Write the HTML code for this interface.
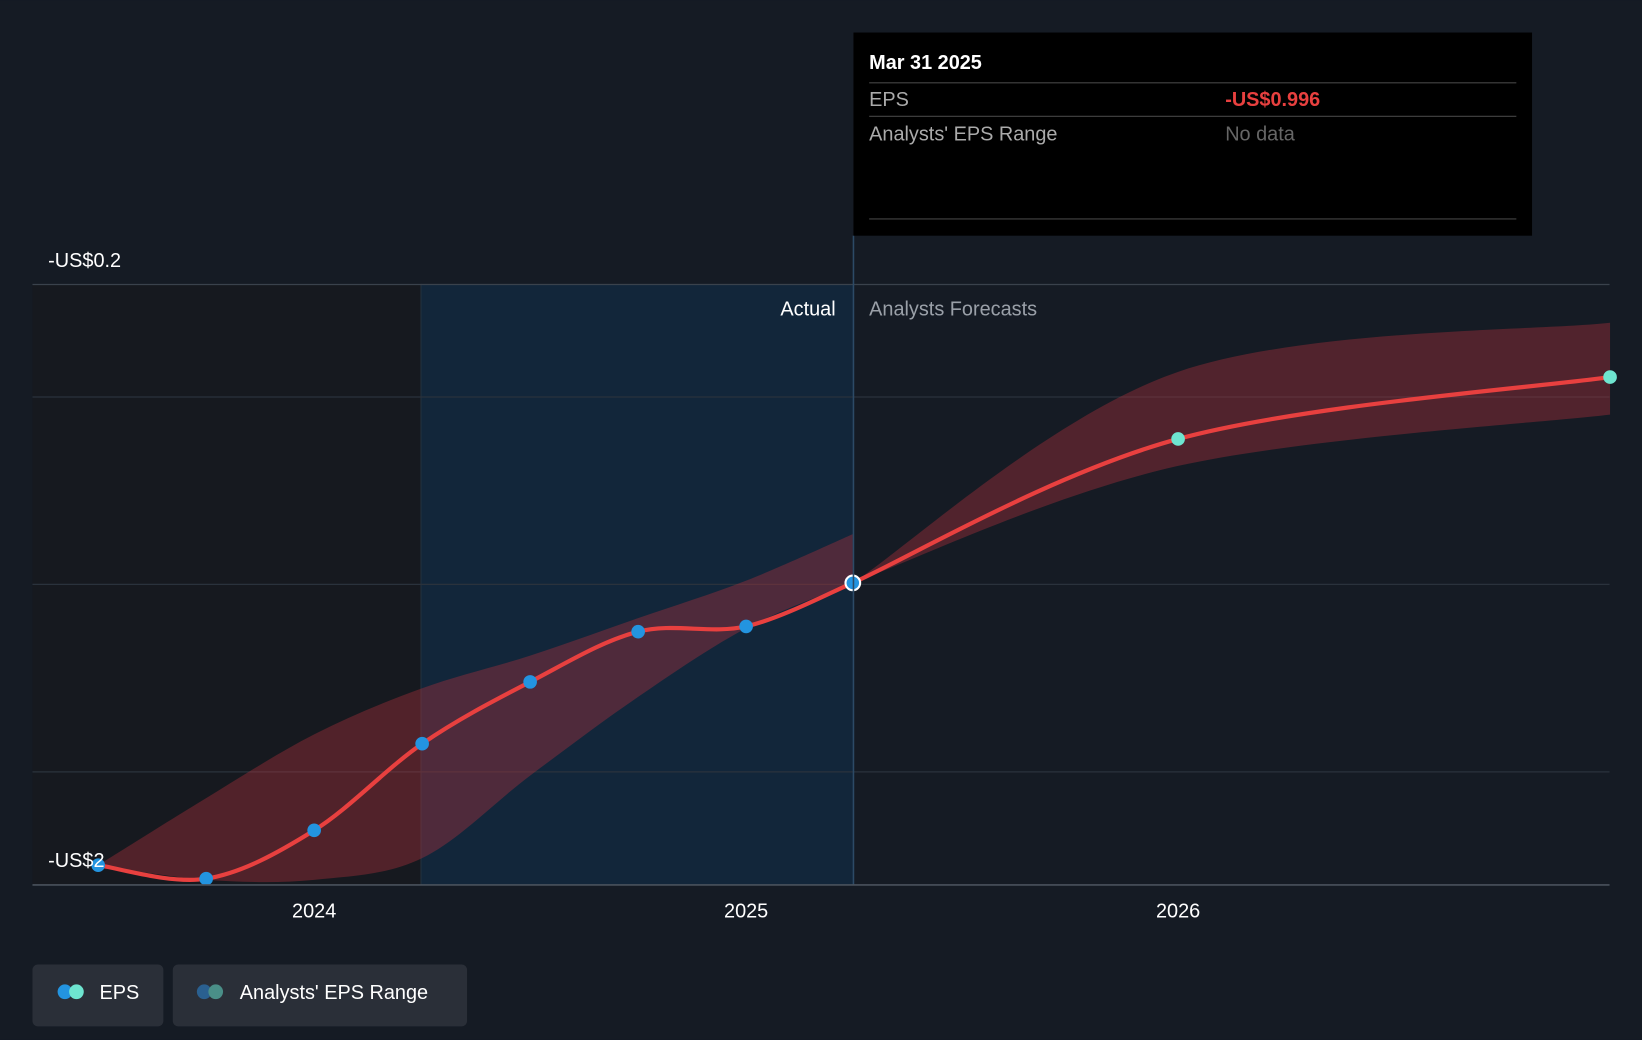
<!DOCTYPE html>
<html><head><meta charset="utf-8">
<style>
html,body{margin:0;padding:0;background:#151b24;overflow:hidden}
svg{display:block;font-family:"Liberation Sans",Roboto,sans-serif}
</style></head>
<body>
<svg id="chart" width="1642" height="1040" viewBox="0 0 1568 993" xmlns="http://www.w3.org/2000/svg">
<rect x="0" y="0" width="1568" height="993" fill="#151b24"/>
<rect x="31" y="271" width="371" height="574" fill="#16191f"/>
<rect x="402" y="271" width="413" height="574" fill="#12263a"/>
<line x1="402" y1="271" x2="402" y2="845" stroke="#24323f" stroke-width="1"/>
<g id="grid"></g>
<g id="bands"></g>
<g id="lines"></g>
<g id="points"></g>
<line x1="815" y1="225" x2="815" y2="845" stroke="#2c4a66" stroke-width="1.5"/>
<line x1="31" y1="845" x2="1537" y2="845" stroke="#4a525c" stroke-width="1.5"/>
<text x="46" y="255" fill="#fff" font-size="19">-US$0.2</text>
<text x="46" y="828" fill="#fff" font-size="19">-US$2</text>
<text x="798" y="301" fill="#fff" font-size="19" text-anchor="end">Actual</text>
<text x="830" y="301" fill="#9aa0a8" font-size="19">Analysts Forecasts</text>
<g id="xticks"></g>
<g>
<rect x="815" y="31" width="648" height="194" fill="#000"/>
<text x="830" y="66" fill="#fff" font-size="19" font-weight="bold">Mar 31 2025</text>
<line x1="830" y1="79" x2="1448" y2="79" stroke="#444" stroke-width="1"/>
<text x="830" y="101" fill="#aaa" font-size="19">EPS</text>
<text x="1170" y="101" fill="#e8403f" font-size="19" font-weight="bold">-US$0.996</text>
<line x1="830" y1="111" x2="1448" y2="111" stroke="#444" stroke-width="1"/>
<text x="830" y="134" fill="#aaa" font-size="19">Analysts' EPS Range</text>
<text x="1170" y="134" fill="#666" font-size="19">No data</text>
<line x1="830" y1="209" x2="1448" y2="209" stroke="#444" stroke-width="1"/>
</g>
<g>
<rect x="31" y="921" width="125" height="59" rx="5" fill="#2a2f38"/>
<circle cx="62" cy="947" r="7" fill="#2394e0"/><circle cx="73" cy="947" r="7" fill="#6ee5d0"/>
<text x="95" y="954" fill="#fff" font-size="19">EPS</text>
</g>
<g>
<rect x="165" y="921" width="281" height="59" rx="5" fill="#2a2f38"/>
<circle cx="195" cy="947" r="7" fill="#2a6090"/><circle cx="206" cy="947" r="7" fill="#4a8f88"/>
<text x="229" y="954" fill="#fff" font-size="19">Analysts' EPS Range</text>
</g>
</svg>
<script>
const actualDates=[2023.5,2023.75,2024.0,2024.25,2024.5,2024.75,2025.0,2025.247];
const actualEps=[-1.749,-1.785,-1.656,-1.425,-1.26,-1.126,-1.112,-0.996];
const actualBandDates=[2023.5,2023.75,2024.0,2024.25,2024.5,2024.75,2025.0,2025.247];
const actualBandHigh=[-1.749,-1.57,-1.40,-1.277,-1.19,-1.09,-0.99,-0.866];
const actualBandLow=[-1.749,-1.788,-1.788,-1.73,-1.51,-1.30,-1.117,-0.996];
const forecastDates=[2025.247,2026.0,2027.0];
const forecastEps=[-0.996,-0.612,-0.447];
const forecastHigh=[-0.996,-0.433,-0.302];
const forecastLow=[-0.996,-0.684,-0.547];
const gridValues=[-0.2,-0.5,-1,-1.5];
const xTickYears=[2024,2025,2026];
const NS="http://www.w3.org/2000/svg";
function xs(t){return 300+(t-2024)*412.5;}
function ys(v){return 558+(-1-v)*358;}
function mk(tag,attrs,parent){const e=document.createElementNS(NS,tag);for(const k in attrs)e.setAttribute(k,attrs[k]);document.getElementById(parent).appendChild(e);return e;}
function spline(pts,move){let d=move?`M${pts[0][0]},${pts[0][1]}`:`L${pts[0][0]},${pts[0][1]}`;
for(let i=0;i<pts.length-1;i++){const p0=pts[Math.max(0,i-1)],p1=pts[i],p2=pts[i+1],p3=pts[Math.min(pts.length-1,i+2)];
const c1=[p1[0]+(p2[0]-p0[0])/6,p1[1]+(p2[1]-p0[1])/6],c2=[p2[0]-(p3[0]-p1[0])/6,p2[1]-(p3[1]-p1[1])/6];
d+=`C${c1[0]},${c1[1]} ${c2[0]},${c2[1]} ${p2[0]},${p2[1]}`;}return d;}
function pts(d,v){return d.map((t,i)=>[xs(t),ys(v[i])]);}
gridValues.forEach(v=>{const l=mk('line',{x1:31,x2:1537,y1:ys(v),y2:ys(v),stroke:v===-0.2?'#3a424c':'#2a323c','stroke-width':1.2},'grid');

});
xTickYears.forEach(y=>{const t=mk('text',{x:xs(y),y:876,fill:'#fff','font-size':19,'text-anchor':'middle'},'xticks');t.textContent=String(y);

});
function band(d,hi,lo,fill,name){const up=pts(d,hi),dn=pts(d,lo).reverse();
const p=mk('path',{d:spline(up,true)+spline(dn,false)+'Z',fill:fill},'bands');

}
band(actualBandDates,actualBandHigh,actualBandLow,'rgba(180,50,60,0.38)','actual-eps-range');
band(forecastDates,forecastHigh,forecastLow,'rgba(180,50,60,0.38)','forecast-eps-range');
const l1=mk('path',{d:spline(pts(actualDates,actualEps),true),fill:'none',stroke:'#e8403f','stroke-width':4},'lines');


const l2=mk('path',{d:spline(pts(forecastDates,forecastEps),true),fill:'none',stroke:'#e8403f','stroke-width':4},'lines');


actualDates.forEach((t,i)=>{const last=i===actualDates.length-1;
const c=mk('circle',{cx:xs(t),cy:ys(actualEps[i]),r:last?7:6.5,fill:'#2394e0',stroke:last?'#fff':'none','stroke-width':2},'points');

});
forecastDates.slice(1).forEach((t,i)=>{const c=mk('circle',{cx:xs(t),cy:ys(forecastEps[i+1]),r:6.5,fill:'#6ee5d0'},'points');

});
</script>
</body></html>
